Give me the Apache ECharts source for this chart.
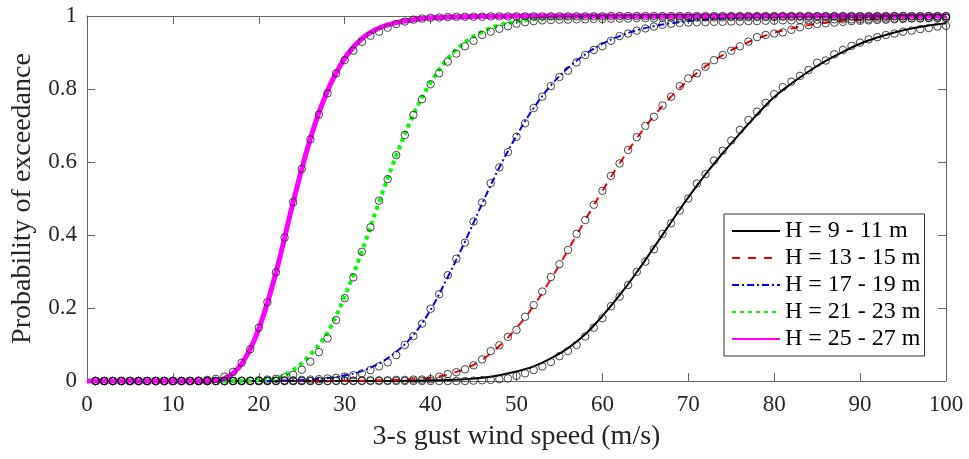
<!DOCTYPE html>
<html>
<head>
<meta charset="utf-8">
<script src="https://cdn.jsdelivr.net/npm/echarts@6/dist/echarts.min.js"></script>
<style>html,body{margin:0;padding:0;background:#fff;}#c{width:969px;height:459px;}</style>
</head>
<body>
<div id="c"></div>
<script>
// ---- data ----
var seriesNames = ['H = 9 - 11 m', 'H = 13 - 15 m', 'H = 17 - 19 m', 'H = 21 - 23 m', 'H = 25 - 27 m'];
var xTickLabels = ['0','10','20','30','40','50','60','70','80','90','100'];
var yTickLabels = ['0','0.2','0.4','0.6','0.8','1'];

// fitted curves (x grid)
var lineX = [0,2,4,6,8,10,12,14,16,18,20,22,24,26,28,30,32,34,36,38,40,42,44,46,48,50,52,54,56,58,60,62,64,66,68,70,72,74,76,78,80,82,84,86,88,90,92,94,96,98,100];
var line9 = [0,0,0,0,0,0,0,0,0,0,0,0,0,0,0,0,0,0,0,0.001,0.002,0.003,0.005,0.009,0.016,0.026,0.04,0.062,0.09,0.128,0.178,0.235,0.298,0.366,0.435,0.503,0.566,0.624,0.678,0.73,0.778,0.815,0.848,0.877,0.902,0.924,0.941,0.955,0.966,0.974,0.98];
var line13 = [0,0,0,0,0,0,0,0,0,0,0,0,0,0,0,0,0.001,0.002,0.003,0.005,0.009,0.018,0.033,0.058,0.096,0.145,0.206,0.279,0.359,0.441,0.521,0.596,0.665,0.726,0.779,0.824,0.862,0.893,0.918,0.938,0.954,0.966,0.975,0.982,0.987,0.99,0.993,0.995,0.996,0.997,0.998];
var line17 = [0,0,0,0,0,0,0,0,0,0,0,0.001,0.002,0.004,0.008,0.015,0.027,0.048,0.08,0.126,0.195,0.285,0.382,0.486,0.585,0.672,0.748,0.81,0.858,0.895,0.924,0.945,0.961,0.972,0.98,0.986,0.99,0.993,0.995,0.997,0.998,0.998,0.999,0.999,0.999,1,1,1,1,1,1];
var line21 = [0,0,0,0,0,0,0,0,0,0,0.002,0.007,0.03,0.072,0.133,0.232,0.355,0.49,0.618,0.73,0.818,0.883,0.928,0.957,0.975,0.985,0.991,0.994,0.996,0.997,0.998,0.998,0.999,0.999,0.999,1,1,1,1,1,1,1,1,1,1,1,1,1,1,1,1];
var line25 = [0,0,0,0,0,0,0,0.001,0.007,0.047,0.143,0.297,0.49,0.664,0.795,0.884,0.938,0.967,0.982,0.99,0.995,0.997,0.998,0.999,0.999,1,1,1,1,1,1,1,1,1,1,1,1,1,1,1,1,1,1,1,1,1,1,1,1,1,1];

// observed points
var gustSpeed = [1,2,3,4,5,6,7,8,9,10,11,12,13,14,15,16,17,18,19,20,21,22,23,24,25,26,27,28,29,30,31,32,33,34,35,36,37,38,39,40,41,42,43,44,45,46,47,48,49,50,51,52,53,54,55,56,57,58,59,60,61,62,63,64,65,66,67,68,69,70,71,72,73,74,75,76,77,78,79,80,81,82,83,84,85,86,87,88,89,90,91,92,93,94,95,96,97,98,99,100];
var obs9 = [0,0,0,0,0,0,0,0,0,0, 0,0,0,0,0,0,0,0,0,0, 0,0,0,0,0,0,0,0,0,0, 0,0,0,0,0,0,0,0,0,0,
  0,0,0,0,0.001,0.002,0.003,0.005,0.007,0.014,
  0.021,0.03,0.04,0.052,0.068,0.082,0.099,0.122,0.146,0.172,
  0.205,0.231,0.263,0.299,0.327,0.361,0.403,0.432,0.467,0.5,
  0.541,0.567,0.604,0.631,0.659,0.688,0.715,0.738,0.762,0.786,
  0.805,0.82,0.836,0.852,0.872,0.878,0.895,0.907,0.918,0.927,
  0.936,0.942,0.948,0.952,0.957,0.96,0.964,0.967,0.971,0.973];
var obs13 = [0,0,0,0,0,0,0,0,0,0, 0,0,0,0,0,0,0,0,0,0,
  0,0,0,0,0,0,0,0,0.001,0.001,
  0.001,0.001,0.002,0.002,0.002,0.003,0.003,0.004,0.004,0.005,
  0.012,0.019,0.024,0.032,0.043,0.059,0.082,0.098,0.121,0.14,
  0.176,0.208,0.245,0.285,0.32,0.359,0.403,0.441,0.483,0.521,
  0.562,0.596,0.633,0.668,0.699,0.724,0.755,0.779,0.808,0.829,
  0.843,0.861,0.879,0.893,0.905,0.917,0.93,0.942,0.948,0.952,
  0.955,0.962,0.969,0.975,0.978,0.98,0.982,0.984,0.986,0.987,
  0.988,0.989,0.99,0.991,0.992,0.993,0.993,0.994,0.994,0.995];
var obs17 = [0,0,0,0,0,0,0,0,0,0, 0,0,0,0,0,0,0,0,0,0,
  0.001,0.001,0.002,0.002,0.003,0.004,0.005,0.007,0.009,0.012,
  0.016,0.021,0.03,0.04,0.051,0.071,0.099,0.123,0.157,0.198,
  0.238,0.29,0.335,0.379,0.437,0.489,0.542,0.585,0.627,0.669,
  0.706,0.748,0.779,0.808,0.833,0.85,0.873,0.893,0.907,0.917,
  0.932,0.945,0.952,0.96,0.966,0.971,0.976,0.979,0.981,0.982,
  0.983,0.983,0.984,0.984,0.985,0.985,0.986,0.986,0.987,0.987,
  0.988,0.988,0.989,0.989,0.99,0.99,0.991,0.991,0.991,0.992,
  0.992,0.993,0.993,0.993,0.994,0.994,0.994,0.995,0.995,0.995];
var obs21 = [0,0,0,0,0,0,0,0,0,0,
  0,0,0,0,0,0,0,0.001,0.001,0.002,
  0.004,0.006,0.01,0.017,0.031,0.053,0.079,0.117,0.167,0.227,
  0.284,0.354,0.421,0.494,0.553,0.619,0.674,0.729,0.772,0.813,
  0.843,0.875,0.897,0.917,0.932,0.948,0.957,0.965,0.972,0.979,
  0.983,0.986,0.988,0.989,0.99,0.99,0.991,0.991,0.992,0.992,
  0.993,0.993,0.993,0.994,0.994,0.994,0.995,0.995,0.995,0.995,
  0.996,0.996,0.996,0.996,0.997,0.997,0.997,0.997,0.997,0.997,
  0.998,0.998,0.998,0.998,0.998,0.998,0.998,0.998,0.998,0.998,
  0.998,0.998,0.998,0.999,0.999,0.999,0.999,0.999,0.999,0.999];
var obs25 = [0,0,0,0,0,0,0,0,0,0,
  0,0,0.001,0.003,0.006,0.012,0.025,0.05,0.087,0.146,
  0.216,0.298,0.393,0.49,0.581,0.662,0.73,0.788,0.843,0.879,
  0.905,0.929,0.946,0.957,0.968,0.978,0.985,0.99,0.993,0.995,
  0.996,0.997,0.998,0.998,0.998,0.998,0.999,0.999,0.999,0.999,
  0.999,0.999,0.999,0.999,0.999,0.999,0.999,0.999,0.999,0.999,
  1,1,1,1,1,1,1,1,1,1, 1,1,1,1,1,1,1,1,1,1, 1,1,1,1,1,1,1,1,1,1, 1,1,1,1,1,1,1,1,1,1];

// ---- chart ----
var FONT = "'Liberation Serif','Times New Roman',serif";
var AX = '#666';
var TXT = '#262626';
function zip(xs, ys) { var out = []; for (var i = 0; i < ys.length; i++) out.push([xs[i], ys[i]]); return out; }

var lines = [line9, line13, line17, line21, line25];
var obs = [obs9, obs13, obs17, obs21, obs25];
var styles = [
  {color: '#000000', width: 2, type: 'solid'},
  {color: '#ff0000', width: 2, type: [8, 8]},
  {color: '#0000ff', width: 2, type: [7, 3, 2, 3]},
  {color: '#00ff00', width: 4, type: [4, 4]},
  {color: '#ff00ff', width: 5, type: 'solid'}
];

var series = [];
for (var i = 0; i < 5; i++) {
  series.push({
    name: seriesNames[i], type: 'line', data: zip(lineX, lines[i]),
    symbol: 'none', showSymbol: false, smooth: 0.35, clip: false, z: 2 + i,
    lineStyle: {color: styles[i].color, width: styles[i].width, type: styles[i].type, cap: 'butt'},
    itemStyle: {color: styles[i].color}, silent: true
  });
}
for (var j = 0; j < 5; j++) {
  series.push({
    name: 'obs' + j, type: 'scatter', data: zip(gustSpeed, obs[j]),
    symbol: 'circle', symbolSize: 7.5, clip: false, z: 10, silent: true,
    itemStyle: {color: 'rgba(0,0,0,0)', borderColor: '#1a1a1a', borderWidth: 1}
  });
}

function axisCommon(extra) {
  var a = {
    type: 'value',
    axisLine: {show: true, onZero: false, lineStyle: {color: AX, width: 1}},
    axisTick: {show: true, inside: true, length: 8, lineStyle: {color: AX}},
    splitLine: {show: false}
  };
  for (var k in extra) a[k] = extra[k];
  return a;
}

var legendData = seriesNames.map(function (n) {
  return {name: n, itemStyle: {opacity: 0}};
});

var option = {
  animation: false,
  backgroundColor: '#fff',
  grid: {left: 87, right: 23, top: 16, bottom: 78},
  xAxis: [
    axisCommon({position: 'bottom', min: 0, max: 100, interval: 10,
      axisLabel: {show: true, margin: 12, fontSize: 23, color: TXT, fontFamily: FONT,
        formatter: function (v) { return xTickLabels[Math.round(v / 10)]; }},
      name: '3-s gust wind speed (m/s)', nameLocation: 'middle', nameGap: 42,
      nameTextStyle: {fontSize: 28, color: TXT, fontFamily: FONT}}),
    axisCommon({position: 'top', min: 0, max: 100, interval: 10, axisLabel: {show: false}})
  ],
  yAxis: [
    axisCommon({position: 'left', min: 0, max: 1, interval: 0.2,
      axisLabel: {show: true, margin: 10, fontSize: 23, color: TXT, fontFamily: FONT,
        formatter: function (v) { return yTickLabels[Math.round(v * 5)]; }},
      name: 'Probability of exceedance', nameLocation: 'middle', nameGap: 50,
      nameTextStyle: {fontSize: 28, color: TXT, fontFamily: FONT}}),
    axisCommon({position: 'right', min: 0, max: 1, interval: 0.2, axisLabel: {show: false}})
  ],
  legend: {
    data: legendData, orient: 'vertical', left: 724, top: 214,
    itemWidth: 48, itemHeight: 14, itemGap: 3,
    padding: [5, 4, 5, 7],
    backgroundColor: '#fff', borderColor: '#333', borderWidth: 1,
    itemStyle: {opacity: 0},
    textStyle: {fontSize: 24, color: '#000', fontFamily: FONT},
    selectedMode: false
  },
  series: series
};
var chart = echarts.init(document.getElementById('c'), null, {renderer: 'canvas'});
chart.setOption(option);
</script>
</body>
</html>
